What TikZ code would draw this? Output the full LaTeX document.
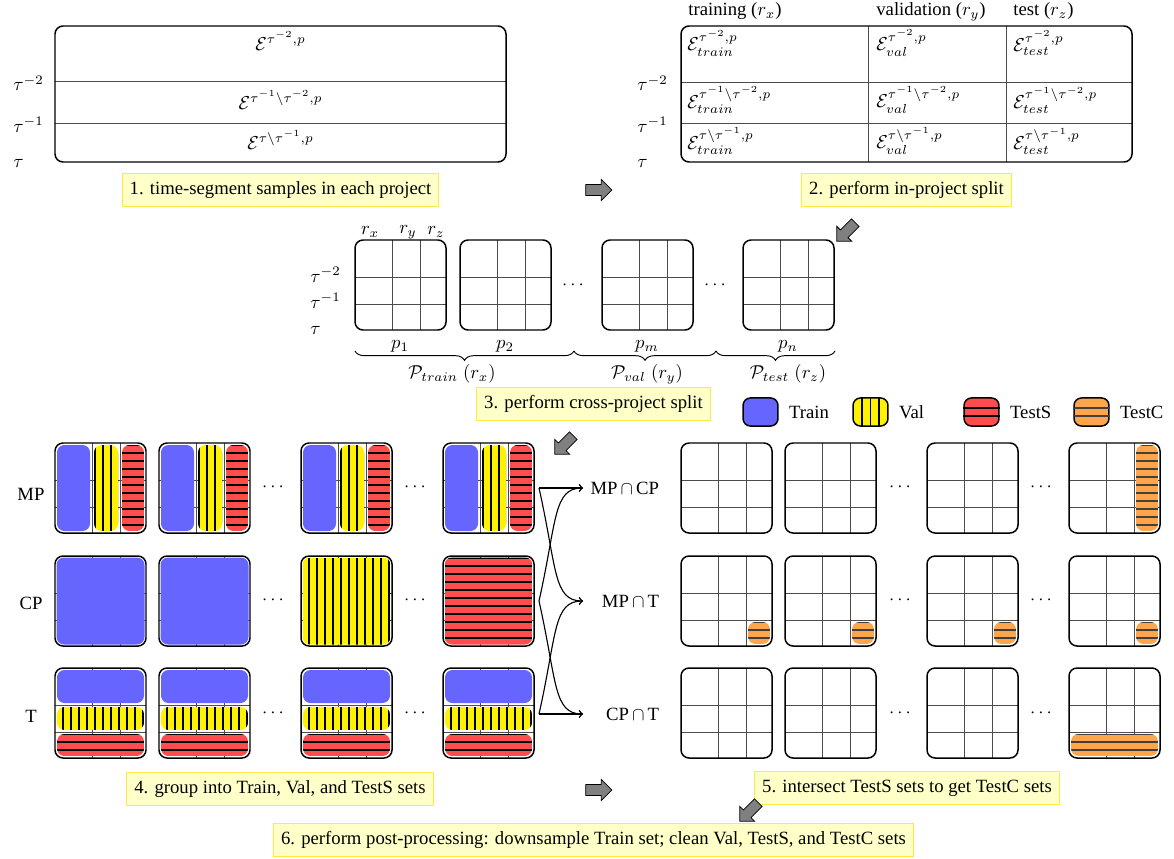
\documentclass[tikz,border=0pt]{standalone}
\usepackage[no-math]{fontspec}
\setmainfont{Liberation Serif}
\usetikzlibrary{positioning,shapes.arrows,decorations.pathreplacing}

\definecolor{traincol}{HTML}{6666FF}
\definecolor{valcol}{HTML}{FFF200}
\definecolor{testscol}{HTML}{FF4D4D}
\definecolor{testccol}{HTML}{FFA64D}
\definecolor{capfill}{HTML}{FFFFC8}
\definecolor{capline}{HTML}{FFE84A}

\tikzset{
  panel/.style={draw, line width=0.8pt, rounded corners=4.3pt},
  cellline/.style={draw=black!70, line width=0.5pt},
  caption/.style={draw=capline, fill=capfill, line width=0.6pt, inner xsep=4pt,
    inner ysep=4pt, text height=7pt, text depth=2.2pt},
  hatchline/.style={line width=0.7pt, black},
  bigarrow/.style={single arrow, draw, fill=gray, inner sep=2.7pt, minimum height=14pt,
    single arrow head extend=2.7pt, line width=0.4pt},
  swatch/.style={draw, line width=0.8pt, minimum width=18.7pt, minimum height=15pt,
    inner sep=0pt, rounded corners=4pt},
  tlabel/.style={anchor=base west, inner sep=0pt},
  celltext/.style={anchor=west, inner sep=0pt},
  setlabel/.style={text width=40pt, align=right, inner sep=0.5pt, anchor=west},
  link/.style={->, line width=0.6pt},
  brace/.style={decorate, decoration={brace, mirror, amplitude=5pt}, line width=0.5pt},
}

% coloured parts of a project, corners (#1,#2) and (#3,#4)
\newcommand{\trainpart}[4]{\fill[traincol, rounded corners=4pt] (#1,#2) rectangle (#3,#4);}
\newcommand{\valpart}[4]{%
  \begin{scope}
    \clip[rounded corners=4pt] (#1,#2) rectangle (#3,#4);
    \fill[valcol] (#1,#2) rectangle (#3,#4);
    \foreach \k in {0,...,11} \draw[hatchline] ({8*\k},#2) -- ({8*\k},#4);
  \end{scope}}
\newcommand{\testspart}[4]{%
  \begin{scope}
    \clip[rounded corners=4pt] (#1,#2) rectangle (#3,#4);
    \fill[testscol] (#1,#2) rectangle (#3,#4);
    \foreach \k in {0,...,11} \draw[hatchline] (#1,{8*\k+2}) -- (#3,{8*\k+2});
  \end{scope}}
\newcommand{\testcpart}[4]{%
  \begin{scope}
    \clip[rounded corners=4pt] (#1,#2) rectangle (#3,#4);
    \fill[testccol] (#1,#2) rectangle (#3,#4);
    \foreach \k in {0,...,11} \draw[hatchline, black!75] (#1,{8*\k+2}) -- (#3,{8*\k+2});
  \end{scope}}
\newcommand{\fillcolx}[1]{#1{2}{2}{35}{88}}
\newcommand{\fillcoly}[1]{#1{39}{2}{63}{88}}
\newcommand{\fillcolz}[1]{#1{67}{2}{89}{88}}
\newcommand{\fillall}[1]{#1{1.5}{1.5}{89.5}{88.5}}
\newcommand{\fillrowa}[1]{#1{2}{2}{89}{35}}
\newcommand{\fillrowb}[1]{#1{2}{39}{89}{62}}
\newcommand{\fillrowc}[1]{#1{2}{66}{89}{88}}
\newcommand{\fillcell}[1]{#1{67}{66}{89}{88}}

% one project: time segments x in-project parts, top left corner at (#1,#2)
\newcommand{\projgrid}[3]{%
  \begin{scope}[shift={(#1,#2)}]
    \draw[cellline] (37,0) -- (37,90) (65,0) -- (65,90)
      (0,37) -- (91,37) (0,64) -- (91,64);
    #3
    \draw[panel] (0,0) rectangle (91,90);
  \end{scope}}

\begin{document}
\begin{tikzpicture}[x=0.535pt, y=-0.535pt]
  \useasboundingbox (0,0) rectangle (1174,859);

  % step 1
  \draw[cellline] (55,81) -- (506,81) (55,123) -- (506,123);
  \draw[panel] (55,26) rectangle (506,162);
  \node[inner sep=0pt] (seg1) at (280.5,41) {$\mathcal{E}^{\tau^{-2},p}$};
  \node[inner sep=0pt] (seg2) at (280.5,100) {$\mathcal{E}^{\tau^{-1}\setminus\tau^{-2},p}$};
  \node[inner sep=0pt] (seg3) at (280.5,140) {$\mathcal{E}^{\tau\setminus\tau^{-1},p}$};
  \node[tlabel] (t1a) at (13,91) {$\tau^{-2}$};
  \node[tlabel] (t1b) at (13,132) {$\tau^{-1}$};
  \node[tlabel] (t1c) at (13,168) {$\tau$};
  \node[caption] (cap1) at (280.5,190) {1. time-segment samples in each project};

  % step 2
  \draw[cellline] (681,82) -- (1132,82) (681,123) -- (1132,123)
    (868,26) -- (868,162) (1006,26) -- (1006,162);
  \draw[panel] (681,26) rectangle (1132,162);
  \node[tlabel] (hx) at (688,16) {training ($r_x$)};
  \node[tlabel] (hy) at (876,16) {validation ($r_y$)};
  \node[tlabel] (hz) at (1013,16) {test ($r_z$)};
  \node[celltext] (c11) at (687,43) {$\mathcal{E}^{\tau^{-2},p}_{train}$};
  \node[celltext] (c12) at (876,43) {$\mathcal{E}^{\tau^{-2},p}_{val}$};
  \node[celltext] (c13) at (1013,43) {$\mathcal{E}^{\tau^{-2},p}_{test}$};
  \node[celltext] (c21) at (687,100) {$\mathcal{E}^{\tau^{-1}\setminus\tau^{-2},p}_{train}$};
  \node[celltext] (c22) at (876,100) {$\mathcal{E}^{\tau^{-1}\setminus\tau^{-2},p}_{val}$};
  \node[celltext] (c23) at (1013,100) {$\mathcal{E}^{\tau^{-1}\setminus\tau^{-2},p}_{test}$};
  \node[celltext] (c31) at (687,141) {$\mathcal{E}^{\tau\setminus\tau^{-1},p}_{train}$};
  \node[celltext] (c32) at (876,141) {$\mathcal{E}^{\tau\setminus\tau^{-1},p}_{val}$};
  \node[celltext] (c33) at (1013,141) {$\mathcal{E}^{\tau\setminus\tau^{-1},p}_{test}$};
  \node[tlabel] (t2a) at (637,91) {$\tau^{-2}$};
  \node[tlabel] (t2b) at (637,132) {$\tau^{-1}$};
  \node[tlabel] (t2c) at (637,168) {$\tau$};
  \node[caption] (cap2) at (906.5,190) {2. perform in-project split};

  % step 3
  \projgrid{355}{240}{}
  \projgrid{460}{240}{}
  \projgrid{602}{240}{}
  \projgrid{743}{240}{}
  \node (rx) at (370,232) {$r_x$};
  \node (ry) at (408,232) {$r_y$};
  \node (rz) at (436,232) {$r_z$};
  \node[tlabel] (t3a) at (310,282) {$\tau^{-2}$};
  \node[tlabel] (t3b) at (310,308) {$\tau^{-1}$};
  \node[tlabel] (t3c) at (310,334) {$\tau$};
  \node (dots3a) at (573,285) {$\cdots$};
  \node (dots3b) at (715,285) {$\cdots$};
  \node (p1) at (400,346) {$p_1$};
  \node (p2) at (505,346) {$p_2$};
  \node (pm) at (647,346) {$p_m$};
  \node (pn) at (788,346) {$p_n$};
  \draw[brace] (355,351) -- (574,351);
  \draw[brace] (574,351) -- (716,351);
  \draw[brace] (716,351) -- (835,351);
  \node (ptrain) at (452,374) {$\mathcal{P}_{train}\;(r_x)$};
  \node (pval) at (647,374) {$\mathcal{P}_{val}\;(r_y)$};
  \node (ptest) at (788,374) {$\mathcal{P}_{test}\;(r_z)$};
  \node[caption] (cap3) at (593.5,404) {3. perform cross-project split};

  % legend
  \node[swatch, fill=traincol] (legtrain) at (760.5,412) {};
  \node[right=2pt of legtrain] (legtrainlbl) {Train};
  \node[swatch, fill=valcol] (legval) at (870.5,412) {};
  \draw[hatchline] ([xshift=-4.5pt]legval.north) -- ([xshift=-4.5pt]legval.south)
    (legval.north) -- (legval.south)
    ([xshift=4.5pt]legval.north) -- ([xshift=4.5pt]legval.south);
  \node[right=2pt of legval] (legvallbl) {Val};
  \node[swatch, fill=testscol] (legtests) at (981.5,412) {};
  \draw[hatchline] ([yshift=2.2pt]legtests.west) -- ([yshift=2.2pt]legtests.east)
    ([yshift=-2.2pt]legtests.west) -- ([yshift=-2.2pt]legtests.east);
  \node[right=2pt of legtests] (legtestslbl) {TestS};
  \node[swatch, fill=testccol] (legtestc) at (1091.5,412) {};
  \draw[hatchline, black!75] ([yshift=2.2pt]legtestc.west) -- ([yshift=2.2pt]legtestc.east)
    ([yshift=-2.2pt]legtestc.west) -- ([yshift=-2.2pt]legtestc.east);
  \node[right=2pt of legtestc] (legtestclbl) {TestC};

  % step 4
  \foreach \gx in {55,159,301,443} {
    \projgrid{\gx}{443}{\fillcolx{\trainpart}\fillcoly{\valpart}\fillcolz{\testspart}}
    \projgrid{\gx}{668}{\fillrowa{\trainpart}\fillrowb{\valpart}\fillrowc{\testspart}}
  }
  \projgrid{55}{556}{\fillall{\trainpart}}
  \projgrid{159}{556}{\fillall{\trainpart}}
  \projgrid{301}{556}{\fillall{\valpart}}
  \projgrid{443}{556}{\fillall{\testspart}}
  \node (mplbl) at (31,494) {MP};
  \node (cplbl) at (31,603) {CP};
  \node (tlbl) at (31,716) {T};
  \node (dots4a) at (273,487) {$\cdots$};
  \node (dots4b) at (415,487) {$\cdots$};
  \node (dots4c) at (273,600) {$\cdots$};
  \node (dots4d) at (415,600) {$\cdots$};
  \node (dots4e) at (273,713) {$\cdots$};
  \node (dots4f) at (415,713) {$\cdots$};
  \node[caption] (cap4) at (280,789) {4. group into Train, Val, and TestS sets};

  % intersections
  \coordinate (mp) at (539,488);
  \coordinate (cp) at (539,601);
  \coordinate (tt) at (539,714);
  \node[setlabel] (mpcp) at (583,488) {MP$\,\cap\,$CP};
  \node[setlabel] (mpt) at (583,601) {MP$\,\cap\,$T};
  \node[setlabel] (cpt) at (583,714) {CP$\,\cap\,$T};
  \draw[link] (mp) -- (mpcp.west);
  \draw[link] (mp) .. controls +(18,80) and +(-30,0) .. (mpt.west);
  \draw[link] (cp) .. controls +(18,-80) and +(-30,0) .. (mpcp.west);
  \draw[link] (cp) .. controls +(18,80) and +(-30,0) .. (cpt.west);
  \draw[link] (tt) .. controls +(18,-80) and +(-30,0) .. (mpt.west);
  \draw[link] (tt) -- (cpt.west);

  % step 5
  \foreach \gx in {681,785,927} {
    \projgrid{\gx}{443}{}
    \projgrid{\gx}{668}{}
  }
  \projgrid{1069}{443}{\fillcolz{\testcpart}}
  \foreach \gx in {681,785,927,1069} {
    \projgrid{\gx}{556}{\fillcell{\testcpart}}
  }
  \projgrid{1069}{668}{\fillrowc{\testcpart}}
  \node (dots5a) at (900,487) {$\cdots$};
  \node (dots5b) at (1041,487) {$\cdots$};
  \node (dots5c) at (900,600) {$\cdots$};
  \node (dots5d) at (1041,600) {$\cdots$};
  \node (dots5e) at (900,713) {$\cdots$};
  \node (dots5f) at (1041,713) {$\cdots$};
  \node[caption] (cap5) at (907,788) {5. intersect TestS sets to get TestC sets};

  % step 6
  \node[caption] (cap6) at (593.5,840) {6. perform post-processing: downsample Train set; clean Val, TestS, and TestC sets};

  % big arrows between the steps
  \node[bigarrow] (go12) at (596,190) {};
  \node[bigarrow, rotate=225] (go23) at (848,230) {};
  \node[bigarrow, rotate=225] (go34) at (566,443) {};
  \node[bigarrow] (go45) at (596,790) {};
  \node[bigarrow, rotate=225] (go56) at (751,810) {};
\end{tikzpicture}
\end{document}
